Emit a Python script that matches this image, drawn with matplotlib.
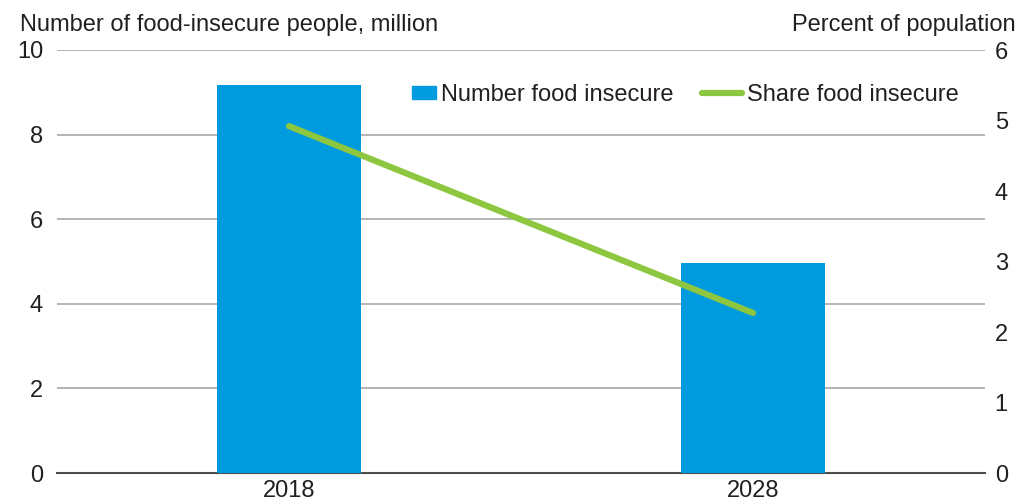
import matplotlib.pyplot as plt
from matplotlib.lines import Line2D
from matplotlib.patches import Patch, Rectangle
from matplotlib.legend_handler import HandlerPatch

plt.rcParams['font.family'] = ['Liberation Sans', 'DejaVu Sans']

years = ["2018", "2028"]
number_insecure = [9.17, 4.97]   # million people
share_insecure = [4.92, 2.27]    # percent of population

BLUE = "#009ADE"
GREEN = "#8DC63F"
GRID = "#A8A8A8"
TXT = "#231F20"

fig = plt.figure(figsize=(10.16, 5.04), dpi=100)
ax = fig.add_axes([57 / 1016, 31 / 504, 928 / 1016, 423 / 504])
ax2 = ax.twinx()

x = list(range(len(years)))
ax.bar(x, number_insecure, width=0.312, color=BLUE, zorder=3)
ax2.plot(x, share_insecure, color=GREEN, lw=4.5, solid_capstyle="round", zorder=4)

ax.set_xlim(-0.5, 1.5)
ax.set_ylim(0, 10)
ax2.set_ylim(0, 6)
ax.set_yticks([0, 2, 4, 6, 8, 10])
ax2.set_yticks([0, 1, 2, 3, 4, 5, 6])
ax.set_xticks(x)
ax.set_xticklabels(years)

ax.grid(axis="y", color=GRID, lw=1.2, zorder=0)
ax.set_axisbelow(True)
for a in (ax, ax2):
    for s in a.spines.values():
        s.set_visible(False)
    a.tick_params(length=0, labelsize=17, colors=TXT)
ax.spines["bottom"].set_visible(True)
ax.spines["bottom"].set_color("#4D4D4D")
ax.spines["bottom"].set_linewidth(1.5)
ax.tick_params(axis="y", pad=10)
ax2.tick_params(axis="y", pad=7)
ax.tick_params(axis="x", pad=5)

ax.set_zorder(ax2.get_zorder() - 1)
ax.patch.set_visible(False)
ax2.patch.set_visible(False)

fig.text(20 / 1016, 1 - 25 / 504, "Number of food-insecure people, million",
         fontsize=17, va="center", ha="left", color=TXT)
fig.text(1016 / 1016, 1 - 25 / 504, "Percent of population",
         fontsize=17, va="center", ha="right", color=TXT)


def small_square(legend, orig_handle, xdescent, ydescent, width, height, fontsize):
    w = 0.6 * width
    h = 0.8 * height
    return Rectangle((width - w - xdescent, -ydescent + (height - h) / 2), w, h)


handles = [Patch(color=BLUE, label="Number food insecure"),
           Line2D([0], [0], color=GREEN, lw=4.5, solid_capstyle="round",
                  label="Share food insecure")]
fig.legend(handles=handles, loc="center left", bbox_to_anchor=(384 / 1016, 1 - 95 / 504),
           ncol=2, frameon=False, fontsize=17, handlelength=1.7, handletextpad=0.22,
           columnspacing=1.2, borderpad=0, labelcolor=TXT,
           handler_map={Patch: HandlerPatch(patch_func=small_square)})

fig.savefig("out.png", dpi=100)
